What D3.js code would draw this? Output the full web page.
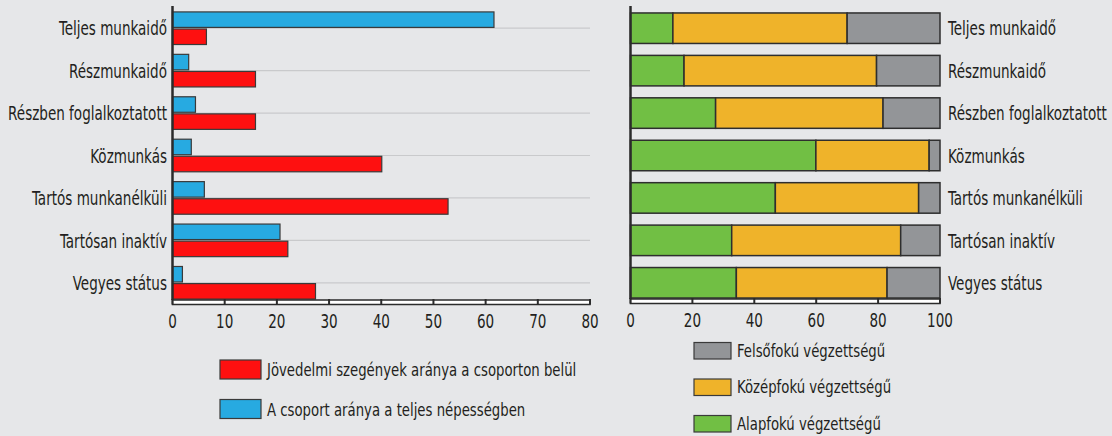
<!DOCTYPE html>
<html>
<head>
<meta charset="utf-8">
<script src="https://cdn.jsdelivr.net/npm/d3@7"></script>
<style>
body { margin: 0; background: #e6e7e9; }
svg { display: block; }
text { font-family: "DejaVu Sans Condensed", "Liberation Sans Narrow", sans-serif; fill: #231f20; font-size: 20px; }
text.leg { font-size: 18.5px; }
</style>
</head>
<body>
<div id="chart"></div>
<script>
// categories (top to bottom)
var groups = ["Teljes munkaidő", "Részmunkaidő", "Részben foglalkoztatott", "Közmunkás",
    "Tartós munkanélküli", "Tartósan inaktív", "Vegyes státus"];

// left panel: two series, %
var shareOfPop = [61.6, 3.1, 4.4, 3.6, 6.1, 20.6, 1.9];     // A csoport aránya a teljes népességben
var poorShare = [6.5, 15.9, 15.9, 40.1, 52.8, 22.1, 27.4];   // Jövedelmi szegények aránya a csoporton belül
var leftTicks = [0, 10, 20, 30, 40, 50, 60, 70, 80];

// right panel: education composition, %
var basic = [13.7, 17.3, 27.5, 59.9, 46.8, 32.7, 34.2];       // Alapfokú
var secondary = [56.3, 62.2, 54.1, 36.6, 46.3, 54.6, 48.7];   // Középfokú
var higher = [30.0, 20.5, 18.4, 3.5, 6.9, 12.7, 17.1];        // Felsőfokú
var rightTicks = [0, 20, 40, 60, 80, 100];

var leftLegend = ["Jövedelmi szegények aránya a csoporton belül", "A csoport aránya a teljes népességben"];
var rightLegend = ["Felsőfokú végzettségű", "Középfokú végzettségű", "Alapfokú végzettségű"];

var colRed = "#fe1010", colBlue = "#27aae1";
var colGreen = "#71bf44", colYellow = "#efb32a", colGray = "#939598";
var ink = "#2b2b2b";

var W = 1112, H = 436;
var svg = d3.select("#chart").append("svg").attr("width", W).attr("height", H);
svg.append("rect").attr("width", W).attr("height", H).attr("fill", "#e6e7e9");

// the original uses a narrow face; squeeze our condensed one to match
var probe = svg.append("text").text("Részben foglalkoztatott");
var squeeze = 159 / probe.node().getComputedTextLength();
probe.remove();

function label(g, x, yy, s, anchor, k) {
    return g.append("text")
        .attr("transform", "translate(" + x + "," + yy + ") scale(" + squeeze * (k || 1) + ",1)")
        .attr("dy", "0.36em")
        .attr("text-anchor", anchor || "start")
        .text(s);
}

var y = d3.scaleBand().domain(groups).range([7, 304]);
var mid = function(d) { return y(d) + y.bandwidth() / 2; };

// ---------- left panel ----------
var xL = d3.scaleLinear().domain([0, 80]).range([172.5, 590]);
var gL = svg.append("g");

gL.selectAll("line.grid").data(groups).enter().append("line")
    .attr("class", "grid")
    .attr("x1", xL(0)).attr("x2", xL(80))
    .attr("y1", mid).attr("y2", mid)
    .attr("stroke", "#c9cacc").attr("stroke-width", 1.2);

var barH = 15.5;
gL.selectAll("rect.blue").data(groups).enter().append("rect")
    .attr("x", xL(0))
    .attr("y", function(d) { return mid(d) - barH - 0.8; })
    .attr("width", function(d, i) { return xL(shareOfPop[i]) - xL(0); })
    .attr("height", barH)
    .attr("fill", colBlue).attr("stroke", "#3a3a3a").attr("stroke-width", 1.2);

gL.selectAll("rect.red").data(groups).enter().append("rect")
    .attr("x", xL(0))
    .attr("y", function(d) { return mid(d) + 0.8; })
    .attr("width", function(d, i) { return xL(poorShare[i]) - xL(0); })
    .attr("height", barH)
    .attr("fill", colRed).attr("stroke", "#3a3a3a").attr("stroke-width", 1.2);

groups.forEach(function(d) { label(gL, 167, mid(d), d, "end"); });

function ruler(g, x, ticks, top) {
    var x0 = x.range()[0], x1 = x.range()[1];
    g.append("line").attr("x1", x0).attr("x2", x0).attr("y1", 6).attr("y2", top)
        .attr("stroke", ink).attr("stroke-width", 2.5);
    g.append("rect").attr("x", x0).attr("y", top).attr("width", x1 - x0).attr("height", 4.5)
        .attr("fill", "#ffffff").attr("stroke", ink).attr("stroke-width", 1.5);
    g.selectAll("line.tk").data(ticks).enter().append("line")
        .attr("x1", function(d) { return x(d); }).attr("x2", function(d) { return x(d); })
        .attr("y1", top - 1).attr("y2", top + 4.5)
        .attr("stroke", ink).attr("stroke-width", 2);
    ticks.forEach(function(d) { label(g, x(d), top + 21, d, "middle"); });
}
ruler(gL, xL, leftTicks, 300);

// ---------- right panel ----------
var xR = d3.scaleLinear().domain([0, 100]).range([630.5, 940]);
var gR = svg.append("g");
var stackH = 30.5;
var keys = ["basic", "secondary", "higher"];
var colors = { basic: colGreen, secondary: colYellow, higher: colGray };
var rows = groups.map(function(g, i) {
    return { group: g, basic: basic[i], secondary: secondary[i], higher: higher[i] };
});
var series = d3.stack().keys(keys)(rows);

gR.selectAll("g.s").data(series).enter().append("g")
    .attr("fill", function(s) { return colors[s.key]; })
    .selectAll("rect").data(function(s) { return s; }).enter().append("rect")
    .attr("x", function(d) { return xR(d[0]); })
    .attr("y", function(d) { return y(d.data.group) + (y.bandwidth() - stackH) / 2; })
    .attr("width", function(d) { return xR(d[1]) - xR(d[0]); })
    .attr("height", stackH)
    .attr("stroke", "#2e2e2e").attr("stroke-width", 1.5);

groups.forEach(function(d) { label(gR, 948, mid(d), d); });

ruler(gR, xR, rightTicks, 299);

// ---------- legends ----------
var legL = [{ label: leftLegend[0], color: colRed }, { label: leftLegend[1], color: colBlue }];
var lgRoot = svg.append("g");
legL.forEach(function(d, i) {
    var top = 360 + i * 39.5;
    lgRoot.append("rect").attr("x", 220).attr("y", top).attr("width", 41).attr("height", 19)
        .attr("fill", d.color).attr("stroke", "#3a3a3a").attr("stroke-width", 1.2);
    label(lgRoot, 267, top + 9.5, d.label, "start", 1.06).attr("class", "leg");
});

var legR = [{ label: rightLegend[0], color: colGray }, { label: rightLegend[1], color: colYellow },
    { label: rightLegend[2], color: colGreen }];
var rgRoot = svg.append("g");
legR.forEach(function(d, i) {
    var top = 342.5 + i * 36.5;
    rgRoot.append("rect").attr("x", 694).attr("y", top).attr("width", 37).attr("height", 16.5)
        .attr("fill", d.color).attr("stroke", "#3a3a3a").attr("stroke-width", 1.2);
    label(rgRoot, 737, top + 7.5, d.label, "start", 1.06).attr("class", "leg");
});
</script>
</body>
</html>
